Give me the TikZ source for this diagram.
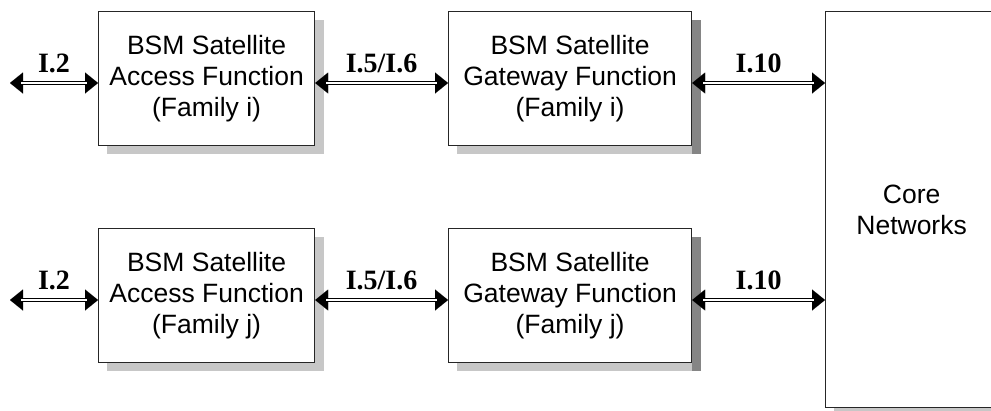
\documentclass[tikz,border=0pt]{standalone}
\usepackage{fontspec}
\setmainfont{Liberation Sans}
\newfontfamily\labelfont{Liberation Serif}
\usetikzlibrary{arrows.meta,calc}
\pgfdeclarelayer{background}
\pgfsetlayers{background,main}

\begin{document}
\begin{tikzpicture}[x=1pt,y=-1pt,
  blk/.style={draw=black!85, line width=1.2pt, fill=white, align=center,
    font=\fontsize{26.5}{31}\selectfont, inner sep=0pt, anchor=north west,
    minimum height=134pt},
  access/.style={blk, minimum width=216pt},
  gateway/.style={blk, minimum width=243pt},
  shade/.style={fill=black!22},
  shadedark/.style={fill=black!48},
  tips/.style={line width=0.01pt,
    {Triangle[length=13pt,width=21pt]}-{Triangle[length=13pt,width=21pt]}},
  shaft/.style={draw=black, double=white, double distance=1.8pt, line width=1.5pt,
    shorten <=11pt, shorten >=11pt},
  lbl/.style={font=\labelfont\bfseries\fontsize{28}{30}\selectfont, anchor=base,
    inner sep=0pt, yshift=11pt}
]
\clip (0,0) rectangle (991,410);
\useasboundingbox (0,0) rectangle (991,410);

% functional blocks
\node[access]  (a1) at (98,11)  {BSM Satellite\\Access Function\\(Family i)};
\node[gateway] (g1) at (448,11) {BSM Satellite\\Gateway Function\\(Family i)};
\node[access]  (a2) at (98,228)  {BSM Satellite\\Access Function\\(Family j)};
\node[gateway] (g2) at (448,228) {BSM Satellite\\Gateway Function\\(Family j)};
\node[blk, minimum width=172pt, minimum height=396pt] (core) at (825,11)
  {Core\\Networks};

% drop shadows
\begin{pgfonlayer}{background}
  \foreach \b in {a1,a2,g1,g2,core} {
    \fill[shade] ($(\b.north east)+(0,9)$) rectangle ($(\b.south east)+(9,8)$);
    \fill[shade] ($(\b.south west)+(9,0)$) rectangle ($(\b.south east)+(9,8)$);
  }
  \foreach \b in {g1,g2} {
    \fill[shadedark] ($(\b.north east)+(0,9)$) rectangle ($(\b.south east)+(9,8)$);
  }
\end{pgfonlayer}

% connector levels: free outer ends, then the box sides at those levels
\coordinate (e1) at (10,83);
\coordinate (e2) at (10,300);
\coordinate (a1w) at (e1 -| a1.west);  \coordinate (a1e) at (e1 -| a1.east);
\coordinate (g1w) at (e1 -| g1.west);  \coordinate (g1e) at (e1 -| g1.east);
\coordinate (c1)  at (e1 -| core.west);
\coordinate (a2w) at (e2 -| a2.west);  \coordinate (a2e) at (e2 -| a2.east);
\coordinate (g2w) at (e2 -| g2.west);  \coordinate (g2e) at (e2 -| g2.east);
\coordinate (c2)  at (e2 -| core.west);

% interface connectors
\foreach \s/\t/\txt in {e1/a1w/{I.2}, a1e/g1w/{I.5/I.6}, g1e/c1/{I.10},
                        e2/a2w/{I.2}, a2e/g2w/{I.5/I.6}, g2e/c2/{I.10}} {
  \draw[tips] (\s) -- (\t);
  \draw[shaft] (\s) -- node[lbl] {\txt} (\t);
}
\end{tikzpicture}
\end{document}
